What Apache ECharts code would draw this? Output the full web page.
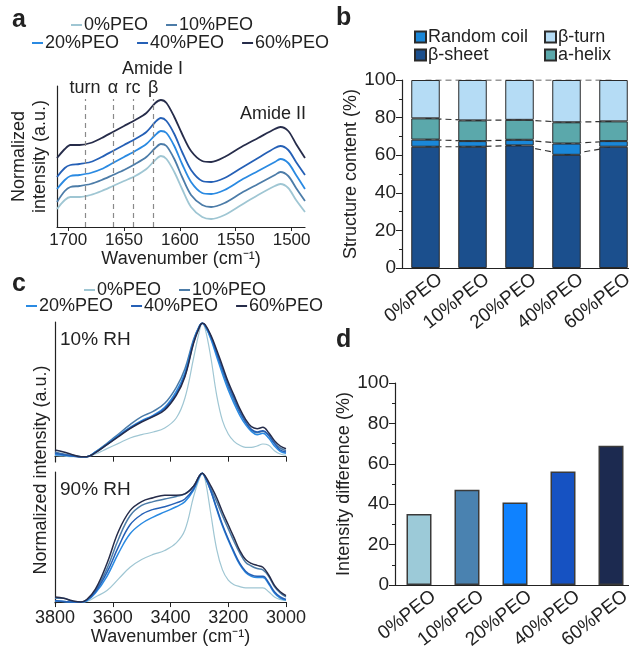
<!DOCTYPE html>
<html>
<head>
<meta charset="utf-8">
<script src="https://cdn.jsdelivr.net/npm/echarts@6/dist/echarts.min.js"></script>
<style>
  html, body { margin: 0; padding: 0; background: #fff; }
  #chart { width: 629px; height: 646px; }
</style>
</head>
<body>
<div id="chart"></div>
<script>
// ---- data ----
var peoNames = ['0%PEO', '10%PEO', '20%PEO', '40%PEO', '60%PEO'];
var peoColors = ['#9fc6d3', '#4c7ca8', '#2a8ae2', '#2560b6', '#262c4a'];

// panel a: amide I / II region
var waveA = [1710, 1703, 1698, 1690, 1680, 1670, 1660, 1650, 1640, 1630, 1622, 1617, 1612, 1605, 1598, 1590, 1580, 1572, 1560, 1545, 1530, 1515, 1510, 1503, 1496, 1488];
var amide0 = [0.18, 0.27, 0.30, 0.30, 0.32, 0.36, 0.41, 0.46, 0.51, 0.58, 0.67, 0.71, 0.68, 0.55, 0.38, 0.20, 0.10, 0.08, 0.12, 0.22, 0.32, 0.41, 0.43, 0.39, 0.27, 0.15];
var amide10 = [0.25, 0.36, 0.40, 0.41, 0.43, 0.47, 0.52, 0.57, 0.63, 0.70, 0.79, 0.83, 0.81, 0.68, 0.50, 0.32, 0.22, 0.20, 0.24, 0.34, 0.43, 0.52, 0.55, 0.51, 0.39, 0.26];
var amide20 = [0.38, 0.47, 0.51, 0.52, 0.54, 0.58, 0.64, 0.70, 0.76, 0.83, 0.92, 0.96, 0.94, 0.81, 0.63, 0.45, 0.34, 0.33, 0.37, 0.47, 0.56, 0.65, 0.68, 0.64, 0.52, 0.38];
var amide40 = [0.50, 0.59, 0.62, 0.63, 0.65, 0.70, 0.76, 0.82, 0.88, 0.95, 1.05, 1.09, 1.06, 0.93, 0.75, 0.57, 0.46, 0.45, 0.49, 0.59, 0.69, 0.79, 0.81, 0.77, 0.65, 0.52];
var amide60 = [0.69, 0.78, 0.82, 0.82, 0.84, 0.89, 0.95, 1.01, 1.07, 1.14, 1.24, 1.27, 1.24, 1.10, 0.93, 0.76, 0.66, 0.65, 0.70, 0.80, 0.89, 0.98, 1.00, 0.96, 0.83, 0.69];
var bandPos = [1685, 1660, 1642, 1624];
var bandNames = ['turn', 'α', 'rc', 'β'];
var ticksA = [1700, 1650, 1600, 1550, 1500];

// panel c: O-H / N-H region
var waveC = [3800, 3770, 3740, 3710, 3690, 3660, 3620, 3580, 3540, 3500, 3460, 3420, 3380, 3350, 3320, 3300, 3290, 3280, 3260, 3240, 3220, 3200, 3180, 3160, 3140, 3120, 3100, 3080, 3060, 3040, 3020, 3000];
var rh10_0 = [0.01, 0.005, 0, 0, 0, 0.02, 0.06, 0.10, 0.14, 0.165, 0.185, 0.215, 0.29, 0.44, 0.74, 0.94, 1.0, 0.96, 0.74, 0.46, 0.27, 0.17, 0.115, 0.085, 0.07, 0.07, 0.08, 0.095, 0.085, 0.045, 0.02, 0.01];
var rh10_10 = [0.035, 0.02, 0.01, 0, 0, 0.035, 0.10, 0.17, 0.24, 0.30, 0.34, 0.40, 0.52, 0.66, 0.88, 0.98, 1.0, 0.98, 0.89, 0.77, 0.64, 0.52, 0.42, 0.33, 0.26, 0.20, 0.18, 0.19, 0.16, 0.10, 0.065, 0.045];
var rh10_20 = [0.015, 0.01, 0.005, 0, 0, 0.035, 0.095, 0.16, 0.22, 0.27, 0.31, 0.37, 0.49, 0.63, 0.87, 0.98, 1.0, 0.98, 0.88, 0.75, 0.62, 0.50, 0.40, 0.31, 0.24, 0.19, 0.165, 0.175, 0.14, 0.08, 0.04, 0.025];
var rh10_40 = [0.025, 0.015, 0.005, 0, 0, 0.03, 0.09, 0.155, 0.215, 0.265, 0.305, 0.36, 0.47, 0.61, 0.86, 0.975, 1.0, 0.985, 0.90, 0.78, 0.66, 0.54, 0.44, 0.34, 0.26, 0.205, 0.185, 0.195, 0.16, 0.10, 0.05, 0.035];
var rh10_60 = [0.05, 0.035, 0.015, 0, 0, 0.03, 0.09, 0.15, 0.21, 0.26, 0.30, 0.35, 0.46, 0.60, 0.85, 0.97, 1.0, 0.99, 0.91, 0.80, 0.68, 0.56, 0.46, 0.36, 0.28, 0.225, 0.21, 0.22, 0.18, 0.12, 0.08, 0.06];
var rh90_0 = [0.01, 0.005, 0, 0, 0.005, 0.04, 0.09, 0.18, 0.27, 0.33, 0.37, 0.40, 0.46, 0.56, 0.82, 0.96, 1.0, 0.95, 0.68, 0.41, 0.25, 0.17, 0.135, 0.12, 0.11, 0.11, 0.11, 0.11, 0.08, 0.04, 0.02, 0.01];
var rh90_10 = [0.03, 0.03, 0.005, 0, 0.015, 0.09, 0.26, 0.49, 0.67, 0.75, 0.78, 0.80, 0.82, 0.84, 0.90, 0.98, 1.0, 0.97, 0.88, 0.78, 0.67, 0.57, 0.47, 0.38, 0.31, 0.28, 0.26, 0.25, 0.20, 0.12, 0.07, 0.04];
var rh90_20 = [0.01, 0.005, 0, 0, 0.01, 0.07, 0.20, 0.38, 0.53, 0.61, 0.66, 0.70, 0.74, 0.78, 0.87, 0.97, 1.0, 0.97, 0.86, 0.72, 0.59, 0.48, 0.38, 0.29, 0.23, 0.20, 0.19, 0.19, 0.14, 0.07, 0.03, 0.015];
var rh90_40 = [0.01, 0.005, 0, 0, 0.015, 0.08, 0.23, 0.43, 0.60, 0.68, 0.72, 0.74, 0.77, 0.80, 0.88, 0.98, 1.0, 0.97, 0.86, 0.73, 0.60, 0.49, 0.39, 0.30, 0.24, 0.21, 0.20, 0.20, 0.15, 0.08, 0.04, 0.02];
var rh90_60 = [0.04, 0.03, 0.01, 0, 0.02, 0.10, 0.30, 0.55, 0.71, 0.78, 0.81, 0.83, 0.83, 0.84, 0.90, 0.98, 1.0, 0.98, 0.90, 0.81, 0.70, 0.60, 0.50, 0.40, 0.33, 0.30, 0.285, 0.27, 0.21, 0.13, 0.08, 0.05];

// panel b: secondary structure (%)
var structNames = ['β-sheet', 'Random coil', 'a-helix', 'β-turn'];
var structColors = ['#1b4f8d', '#1a87d8', '#5ba8ab', '#b5dcf5'];
var sheet = [64.5, 64.5, 65.2, 60.2, 64.5];
var coil = [3.8, 3.0, 3.0, 6.0, 3.0];
var helix = [11.3, 11.0, 10.6, 11.3, 10.5];
var turn = [20.4, 21.5, 21.2, 22.5, 22.0];

// panel d: intensity difference (%)
var diffVals = [35.2, 47.1, 40.8, 56.2, 68.9];
var diffColors = ['#9ccad8', '#4a82b0', '#0f82ff', '#1652c2', '#1c2a50'];

// ---- chart ----
var FONT = 'Liberation Sans, Arial, sans-serif';
var INK = '#222';

var chart = echarts.init(document.getElementById('chart'));

function pts(xs, ys) {
	return xs.map(function (x, i) { return [x, ys[i]]; });
}
function plain(v) {
	return String(v);
}

var series = [];

// panel a lines
var aVals = [amide0, amide10, amide20, amide40, amide60];
aVals.forEach(function (v, i) {
	var s = {
		name: peoNames[i],
		type: 'line',
		xAxisIndex: 0,
		yAxisIndex: 0,
		data: pts(waveA, v),
		smooth: 0.3,
		showSymbol: false,
		lineStyle: { width: 1.8, color: peoColors[i] },
		itemStyle: { color: peoColors[i] },
		z: 3
	};
	if (i === 0) {
		s.markLine = {
			silent: true,
			symbol: 'none',
			lineStyle: { type: [5, 4], color: '#8a8a8a', width: 1.2 },
			label: { show: true, position: 'end', distance: 2, fontFamily: FONT, fontSize: 18, color: INK, formatter: '{b}' },
			data: bandPos.map(function (p, k) {
				return [{ name: bandNames[k], coord: [p, 0] }, { coord: [p, 1.28] }];
			})
		};
	}
	series.push(s);
});

// panel c lines
var c10 = [rh10_0, rh10_10, rh10_20, rh10_40, rh10_60];
var c90 = [rh90_0, rh90_10, rh90_20, rh90_40, rh90_60];
[c10, c90].forEach(function (set, g) {
	set.forEach(function (v, i) {
		series.push({
			name: peoNames[i],
			type: 'line',
			xAxisIndex: 1 + g,
			yAxisIndex: 1 + g,
			data: pts(waveC, v),
			smooth: 0.4,
			showSymbol: false,
			lineStyle: { width: i === 0 ? 1.2 : 1.5, color: peoColors[i] },
			itemStyle: { color: peoColors[i] }
		});
	});
});

// panel b stacked bars + dashed connectors
var structVals = [sheet, coil, helix, turn];
structVals.forEach(function (v, i) {
	series.push({
		name: structNames[i],
		type: 'bar',
		stack: 'struct',
		xAxisIndex: 3,
		yAxisIndex: 3,
		barWidth: 28.5,
		data: v,
		itemStyle: { color: structColors[i], borderColor: '#2a2a2a', borderWidth: 1 },
		z: 3
	});
});
structVals.forEach(function (v, i) {
	series.push({
		name: 'level' + i,
		type: 'line',
		stack: 'levels',
		xAxisIndex: 3,
		yAxisIndex: 3,
		data: v,
		showSymbol: false,
		silent: true,
		lineStyle: { type: [6, 4], color: '#333', width: 1.2 },
		z: 1
	});
});

// panel d bars
series.push({
	name: 'Intensity difference',
	type: 'bar',
	xAxisIndex: 4,
	yAxisIndex: 4,
	barWidth: 25,
	data: diffVals.map(function (v, i) {
		return { value: v, itemStyle: { color: diffColors[i] } };
	}),
	itemStyle: { borderColor: '#3a3a3a', borderWidth: 1.5 }
});

var lineLegend = {
	icon: 'rect',
	itemWidth: 11,
	itemHeight: 2,
	itemGap: 18,
	padding: 0,
	selectedMode: false,
	textStyle: { fontFamily: FONT, fontSize: 18, color: INK, padding: [0, 0, 0, -3] }
};
var boxLegend = {
	icon: 'rect',
	orient: 'vertical',
	itemWidth: 11,
	itemHeight: 11,
	itemGap: 0,
	padding: 0,
	selectedMode: false,
	textStyle: { fontFamily: FONT, fontSize: 18, color: INK, padding: [0, 0, 0, -3] }
};

function axisLineStyle() {
	return { show: true, lineStyle: { color: INK, width: 1.2 } };
}
function pctAxis(grid, name, gap) {
	return {
		type: 'value', gridIndex: grid, min: 0, max: 100, interval: 20,
		name: name, nameLocation: 'middle', nameGap: gap,
		nameTextStyle: { fontFamily: FONT, fontSize: 18, color: INK },
		axisLine: axisLineStyle(),
		axisTick: { show: true, length: 6, lineStyle: { color: INK } },
		minorTick: { show: true, splitNumber: 2, length: 3, lineStyle: { color: INK } },
		splitLine: { show: false },
		axisLabel: { fontFamily: FONT, fontSize: 19, color: INK, margin: 6 }
	};
}
function catAxis(grid) {
	return {
		type: 'category', gridIndex: grid, data: peoNames,
		axisLine: axisLineStyle(),
		axisTick: { show: false },
		axisLabel: {
			fontFamily: FONT, fontSize: 19, color: INK, rotate: 38, margin: 5, interval: 0,
			verticalAlign: 'top', padding: [3, -9, 0, 0]
		}
	};
}
function box(l, t, w, h) {
	return { left: l, top: t, width: w, height: h, outerBoundsMode: 'none', containLabel: false };
}

var option = {
	animation: false,
	backgroundColor: '#fff',
	textStyle: { fontFamily: FONT },
	grid: [
		box(57, 86, 248, 141),
		box(55, 322, 231, 140),
		box(55, 472, 231, 132),
		box(402, 80, 235, 188),
		box(395, 383, 240, 202)
	],
	legend: [
		Object.assign({ data: peoNames.slice(0, 2), left: 71, top: 16 }, lineLegend),
		Object.assign({ data: peoNames.slice(2), left: 32, top: 34 }, lineLegend),
		Object.assign({ data: peoNames.slice(0, 2), left: 84, top: 281 }, lineLegend),
		Object.assign({ data: peoNames.slice(2), left: 26, top: 297 }, lineLegend),
		Object.assign({ data: ['Random coil', 'β-sheet'], left: 414, top: 28 }, boxLegend),
		Object.assign({ data: ['β-turn', 'a-helix'], left: 544, top: 28 }, boxLegend)
	],
	xAxis: [
		{
			type: 'value', gridIndex: 0, min: 1488, max: 1710, inverse: true,
			name: 'Wavenumber (cm⁻¹)', nameLocation: 'middle', nameGap: 20,
			nameTextStyle: { fontFamily: FONT, fontSize: 18, color: INK },
			axisLine: axisLineStyle(),
			axisTick: { show: true, length: 4, customValues: ticksA, lineStyle: { color: INK } },
			axisLabel: { fontFamily: FONT, fontSize: 17, color: INK, margin: 5, customValues: ticksA, formatter: plain },
			splitLine: { show: false }
		},
		{
			type: 'value', gridIndex: 1, min: 3000, max: 3800, interval: 200, inverse: true,
			axisLine: axisLineStyle(),
			axisTick: { show: true, length: 5, lineStyle: { color: INK } },
			axisLabel: { show: false },
			splitLine: { show: false }
		},
		{
			type: 'value', gridIndex: 2, min: 3000, max: 3800, interval: 200, inverse: true,
			name: 'Wavenumber (cm⁻¹)', nameLocation: 'middle', nameGap: 22,
			nameTextStyle: { fontFamily: FONT, fontSize: 18, color: INK },
			axisLine: axisLineStyle(),
			axisTick: { show: true, length: 5, lineStyle: { color: INK } },
			axisLabel: { fontFamily: FONT, fontSize: 18, color: INK, margin: 5, formatter: plain },
			splitLine: { show: false }
		},
		catAxis(3),
		catAxis(4)
	],
	yAxis: [
		{
			type: 'value', gridIndex: 0, min: 0, max: 1.41,
			name: 'Normalized\nintensity (a.u.)', nameLocation: 'middle', nameGap: 6,
			nameTextStyle: { fontFamily: FONT, fontSize: 18, color: INK, lineHeight: 21 },
			axisLine: axisLineStyle(), axisTick: { show: false }, axisLabel: { show: false },
			splitLine: { show: false }
		},
		{
			type: 'value', gridIndex: 1, min: -0.04, max: 1.01,
			axisLine: axisLineStyle(), axisTick: { show: false }, axisLabel: { show: false },
			splitLine: { show: false }
		},
		{
			type: 'value', gridIndex: 2, min: -0.015, max: 1.01,
			axisLine: axisLineStyle(), axisTick: { show: false }, axisLabel: { show: false },
			splitLine: { show: false }
		},
		pctAxis(3, 'Structure content (%)', 41),
		pctAxis(4, 'Intensity difference (%)', 33)
	],
	graphic: [
		{ type: 'text', left: 12, top: 8, style: { text: 'a', font: 'bold 25px ' + FONT, fill: INK } },
		{ type: 'text', left: 336, top: 6, style: { text: 'b', font: 'bold 25px ' + FONT, fill: INK } },
		{ type: 'text', left: 12, top: 272, style: { text: 'c', font: 'bold 25px ' + FONT, fill: INK } },
		{ type: 'text', left: 336, top: 328, style: { text: 'd', font: 'bold 25px ' + FONT, fill: INK } },
		{ type: 'text', left: 122, top: 60, style: { text: 'Amide I', font: '18px ' + FONT, fill: INK } },
		{ type: 'text', left: 240, top: 105, style: { text: 'Amide II', font: '18px ' + FONT, fill: INK } },
		{ type: 'text', left: 60, top: 330, style: { text: '10% RH', font: '19px ' + FONT, fill: INK } },
		{ type: 'text', left: 60, top: 480, style: { text: '90% RH', font: '19px ' + FONT, fill: INK } },
		{
			type: 'text', x: 41, y: 470, rotation: Math.PI / 2,
			style: { text: 'Normalized intensity (a.u.)', font: '18px ' + FONT, fill: INK, align: 'center', verticalAlign: 'middle' }
		}
	],
	series: series
};

chart.setOption(option);
window.addEventListener('resize', function () {
	chart.resize();
});
</script>
</body>
</html>
